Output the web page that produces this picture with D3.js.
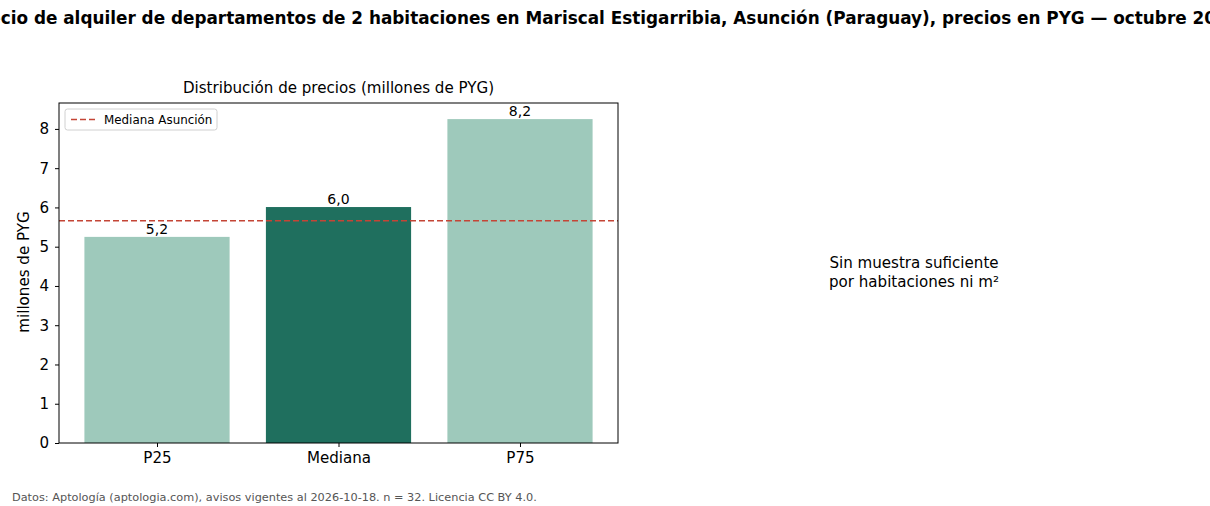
<!DOCTYPE html>
<html>
<head>
<meta charset="utf-8">
<script src="https://cdn.jsdelivr.net/npm/d3@7"></script>
<style>
  body { margin: 0; background: #fff; }
  svg { display: block; font-family: "DejaVu Sans", sans-serif; }
</style>
</head>
<body>
<script>
// data
const categories = ["P25", "Mediana", "P75"];
const values = [5.25, 6.01, 8.25];
const valueLabels = ["5,2", "6,0", "8,2"];
const barColors = ["#9ec9bb", "#1f6f5e", "#9ec9bb"];
const cityMedian = 5.66;
const yTicks = [0, 1, 2, 3, 4, 5, 6, 7, 8];

const W = 1210, H = 506;
const m = { left: 59, right: 618, top: 103, bottom: 443 };
const fs = 15.1; // matches the width of the matplotlib text
const lineColor = "#c44536";

const svg = d3.select("body").append("svg")
  .attr("width", W)
  .attr("height", H);

// main title (wider than the figure, so it gets clipped at both sides, as in the reference)
svg.append("text")
  .attr("x", W / 2 - 1)
  .attr("y", 24)
  .attr("text-anchor", "middle")
  .attr("font-size", 16.85)
  .attr("font-weight", "bold")
  .text("Precio de alquiler de departamentos de 2 habitaciones en Mariscal Estigarribia, Asunción (Paraguay), precios en PYG — octubre 2026");

const x = d3.scaleLinear().domain([-0.54, 2.54]).range([m.left, m.right]);
const y = d3.scaleLinear().domain([0, 8.66]).range([m.bottom, m.top]);

// bars
svg.append("g")
  .selectAll("rect")
  .data(values)
  .enter()
  .append("rect")
  .attr("x", (d, i) => x(i - 0.4))
  .attr("width", (d, i) => x(i + 0.4) - x(i - 0.4))
  .attr("y", d => y(d))
  .attr("height", d => y(0) - y(d))
  .attr("fill", (d, i) => barColors[i]);

// value labels
svg.append("g")
  .selectAll("text")
  .data(values)
  .enter()
  .append("text")
  .attr("x", (d, i) => x(i))
  .attr("y", d => y(d) - 3)
  .attr("text-anchor", "middle")
  .attr("font-size", 14)
  .text((d, i) => valueLabels[i]);

// city median line
svg.append("line")
  .attr("x1", m.left).attr("x2", m.right)
  .attr("y1", y(cityMedian)).attr("y2", y(cityMedian))
  .attr("stroke", lineColor)
  .attr("stroke-width", 1.5)
  .attr("stroke-dasharray", "6,3");

// axes
const yAxis = d3.axisLeft(y).tickValues(yTicks).tickSize(4).tickPadding(6).tickFormat(d3.format("d"));
const xAxis = d3.axisBottom(x).tickValues([0, 1, 2]).tickSize(4).tickPadding(5).tickFormat(i => categories[i]);

const gy = svg.append("g").attr("transform", `translate(${m.left},0)`).call(yAxis);
const gx = svg.append("g").attr("transform", `translate(0,${m.bottom})`).call(xAxis);
[gx, gy].forEach(g => {
  g.select(".domain").remove();
  g.selectAll("text").attr("font-size", fs).attr("fill", "#000").attr("font-family", "DejaVu Sans");
  g.selectAll("line").attr("stroke", "#000");
});

// frame
svg.append("rect")
  .attr("x", m.left).attr("y", m.top)
  .attr("width", m.right - m.left).attr("height", m.bottom - m.top)
  .attr("fill", "none").attr("stroke", "#000").attr("stroke-width", 1);

// axes title + y label
svg.append("text")
  .attr("x", (m.left + m.right) / 2)
  .attr("y", 93)
  .attr("text-anchor", "middle")
  .attr("font-size", fs)
  .text("Distribución de precios (millones de PYG)");

svg.append("text")
  .attr("transform", `translate(29,${(m.top + m.bottom) / 2 - 1}) rotate(-90)`)
  .attr("text-anchor", "middle")
  .attr("font-size", fs)
  .text("millones de PYG");

// legend
const lg = svg.append("g").attr("transform", "translate(65,109)");
lg.append("rect")
  .attr("width", 152).attr("height", 21).attr("rx", 2.5)
  .attr("fill", "#fff").attr("fill-opacity", 0.8)
  .attr("stroke", "#d0d0d0");
lg.append("line")
  .attr("x1", 6).attr("x2", 30).attr("y1", 10.5).attr("y2", 10.5)
  .attr("stroke", lineColor).attr("stroke-width", 1.5).attr("stroke-dasharray", "6,3");
lg.append("text")
  .attr("x", 39).attr("y", 14.5)
  .attr("font-size", 11.9)
  .text("Mediana Asunción");

// right panel note
const note = svg.append("text")
  .attr("x", 914)
  .attr("text-anchor", "middle")
  .attr("font-size", fs);
note.append("tspan").attr("x", 914).attr("y", 268).text("Sin muestra suficiente");
note.append("tspan").attr("x", 914).attr("y", 287).text("por habitaciones ni m²");

// footer
svg.append("text")
  .attr("x", 12).attr("y", 501)
  .attr("font-size", 11.3)
  .attr("fill", "#555")
  .text("Datos: Aptología (aptologia.com), avisos vigentes al 2026-10-18. n = 32. Licencia CC BY 4.0.");
</script>
</body>
</html>
